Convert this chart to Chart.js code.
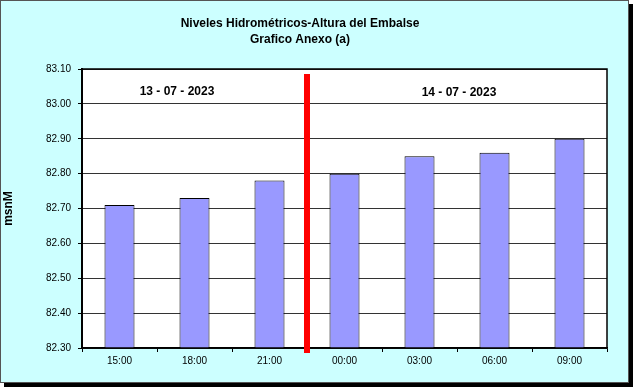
<!DOCTYPE html>
<html lang="es">
<head>
<meta charset="UTF-8">
<title>Niveles Hidrométricos</title>
<script src="https://cdn.jsdelivr.net/npm/chart.js@4.4.0/dist/chart.umd.min.js"></script>
<style>
    body { margin: 0; background: #fff; }
    .frame {
        position: absolute; left: 0; top: 0;
        width: 627px; height: 381px;
        background: #ccffff;
        border: 1px solid #555;
        box-shadow: 4px 4px 0 #000;
    }
    #chart { position: absolute; left: 0; top: 0; }
</style>
</head>
<body>
<div class="frame"></div>
<canvas id="chart" width="633" height="387"></canvas>
<script>
const horas = ['15:00', '18:00', '21:00', '00:00', '03:00', '06:00', '09:00'];
const niveles = [82.71, 82.73, 82.78, 82.80, 82.85, 82.86, 82.90];
const titulo = ['Niveles Hidrométricos-Altura del Embalse', 'Grafico Anexo (a)'];
const fechas = ['13 - 07 - 2023', '14 - 07 - 2023'];
const cambioDia = 2.5; // entre 21:00 y 00:00

const FONT = '"Liberation Sans", Arial, sans-serif';
Chart.defaults.font.family = FONT;
Chart.defaults.color = '#000';

// fondo blanco del area, linea roja, fechas y titulo
const decoracion = {
    id: 'decoracion',
    beforeDraw(chart) {
        const { ctx, chartArea: a } = chart;
        ctx.save();
        ctx.fillStyle = '#fff';
        ctx.fillRect(a.left, a.top, a.right - a.left, a.bottom - a.top);
        ctx.restore();
    },
    afterDatasetsDraw(chart) {
        const { ctx, chartArea: a, scales } = chart;
        ctx.save();
        ctx.strokeStyle = '#000';
        ctx.lineWidth = 1.5;
        ctx.strokeRect(a.left, a.top, a.right - a.left, a.bottom - a.top);

        const x = scales.x.getPixelForValue(cambioDia);
        ctx.strokeStyle = '#ff0000';
        ctx.lineWidth = 6;
        ctx.beginPath();
        ctx.moveTo(x, a.top + 5);
        ctx.lineTo(x, a.bottom + 5);
        ctx.stroke();

        ctx.fillStyle = '#000';
        ctx.font = 'bold 12px ' + FONT;
        ctx.textAlign = 'center';
        ctx.textBaseline = 'middle';
        ctx.fillText(fechas[0], 177, 92);
        ctx.fillText(fechas[1], 459, 93);
        ctx.fillText(titulo[0], 300, 24);
        ctx.fillText(titulo[1], 300, 40);
        ctx.restore();
    }
};

new Chart(document.getElementById('chart'), {
    type: 'bar',
    data: {
        labels: horas,
        datasets: [{
            data: niveles,
            backgroundColor: '#9999ff',
            borderColor: '#000',
            borderWidth: 1,
            barPercentage: 0.4,
            categoryPercentage: 1.0
        }]
    },
    options: {
        responsive: false,
        animation: false,
        layout: { padding: { top: 69, right: 26, bottom: 9, left: 0 } },
        plugins: {
            legend: { display: false },
            tooltip: { enabled: false }
        },
        scales: {
            x: {
                grid: { offset: true, drawOnChartArea: false, tickLength: 4, color: '#000' },
                border: { color: '#000', width: 1.5 },
                ticks: { font: { size: 10 }, padding: 3, maxRotation: 0 },
                afterFit(s) { s.height = 30; }
            },
            y: {
                min: 82.3,
                max: 83.1,
                ticks: {
                    stepSize: 0.1,
                    font: { size: 10 },
                    padding: 7,
                    callback: v => Number(v).toFixed(2)
                },
                grid: { color: '#333', tickLength: 4, tickColor: '#000' },
                border: { color: '#000', width: 2 },
                title: {
                    display: true,
                    text: 'msnM',
                    font: { size: 12, weight: 'bold' },
                    padding: { top: 1, bottom: 0 }
                },
                afterFit(s) { s.width = 82; }
            }
        }
    },
    plugins: [decoracion]
});
</script>
</body>
</html>
